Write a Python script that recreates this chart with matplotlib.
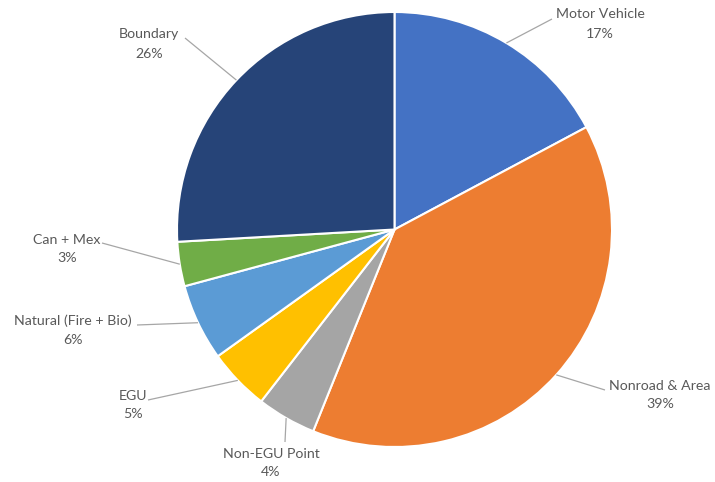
import numpy as np
import matplotlib
matplotlib.use("Agg")
import matplotlib.pyplot as plt

# emission source shares (percent), clockwise from 12 o'clock
sources = ["Motor Vehicle", "Nonroad & Area", "Non-EGU Point", "EGU",
           "Natural (Fire + Bio)", "Can + Mex", "Boundary"]
shares = [17.2, 38.9, 4.4, 4.6, 5.7, 3.3, 25.9]
pct_labels = ["17%", "39%", "4%", "5%", "6%", "3%", "26%"]
colors = ["#4472C4", "#ED7D31", "#A5A5A5", "#FFC000",
          "#5B9BD5", "#70AD47", "#264478"]

W, H = 715, 482
# label layout in pixel coords (y down): text centre, leader start
text_pos = [(600, 24), (660, 395), (271, 463), (133, 405),
            (73, 330), (67, 249), (149, 44)]
lead_pos = [(552, 19), (605, 390), (285, 442), (148, 400),
            (137, 325), (102, 243), (185, 38)]

def px(p):
    return p[0], H - p[1]

fig = plt.figure(figsize=(W / 100, H / 100), dpi=100)
ax = fig.add_axes([0, 0, 1, 1])

cx, cy = px((394.5, 229.5))
r = 217.5
wedges, _ = ax.pie(shares, colors=colors, startangle=90, counterclock=False,
                   center=(cx, cy), radius=r,
                   wedgeprops=dict(edgecolor="white", linewidth=1.5))
ax.set_xlim(0, W)
ax.set_ylim(0, H)
ax.set_aspect("equal")
ax.axis("off")

for w, name, pct, tp, lp in zip(wedges, sources, pct_labels, text_pos, lead_pos):
    mid = np.deg2rad((w.theta1 + w.theta2) / 2)
    ex, ey = cx + r * np.cos(mid), cy + r * np.sin(mid)
    lx, ly = px(lp)
    ax.plot([lx, ex], [ly, ey], color="#A6A6A6", linewidth=0.9,
            solid_capstyle="butt")
    tx, ty = px(tp)
    ax.text(tx, ty, f"{name}\n{pct}", ha="center", va="center",
            fontsize=10.2, color="#595959", family="Lato", linespacing=1.7)

fig.savefig("out.png", dpi=100)
